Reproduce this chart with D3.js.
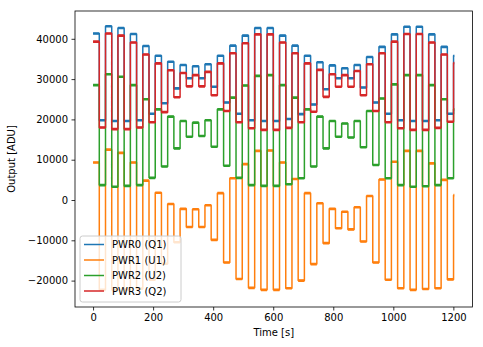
<!DOCTYPE html>
<html>
<head>
<meta charset="utf-8">
<script src="https://cdn.jsdelivr.net/npm/d3@7"></script>
<style>
  body { margin: 0; background: #fff; }
  text { font-family: "DejaVu Sans", sans-serif; }
</style>
</head>
<body>
<div id="chart-container"></div>
<script>
// level change times [s]: start of each half-step, last entry is the end of the record
const stepTimes = [
  0, 20.7, 41.4, 62.1, 82.8, 103.5, 124.2, 144.9, 165.6, 186.3,
  207, 227.7, 248.4, 269.1, 289.8, 310.5, 331.2, 351.9, 372.6, 393.3,
  414, 434.7, 455.4, 476.1, 496.8, 517.5, 538.2, 558.9, 579.6, 600.3,
  621, 641.7, 662.4, 683.1, 703.8, 724.5, 745.2, 765.9, 786.6, 807.3,
  828, 848.7, 869.4, 890.1, 910.8, 931.5, 952.2, 972.9, 993.6, 1014.3,
  1035, 1055.7, 1076.4, 1097.1, 1117.8, 1138.5, 1159.2, 1179.9, 1200.6, 1203
];

// first half of each step (30 values) and second half (29 values)
const pwr0High = [41300, 43100, 42700, 41200, 38200, 35800, 34300, 33500, 33200, 33700,
  35800, 38300, 40800, 42700, 42700, 40800, 38300, 35800, 34200, 33400,
  32700, 33500, 35500, 38000, 41100, 43000, 43000, 41100, 38000, 35800];
const pwr0Low = [19800, 19600, 19600, 19800, 21400, 24000, 27700, 30200, 30200, 28100,
  24200, 21400, 19800, 19600, 19600, 20100, 21300, 23700, 27500, 30200,
  30200, 27900, 24200, 21400, 19800, 19600, 19600, 19800, 21400];

const pwr1High = [9300, 12500, 11700, 9300, 4800, 1800, -1000, -2200, -2300, -1300,
  1700, 5400, 8900, 12200, 12300, 9300, 5200, 1700, -800, -2200,
  -2900, -1800, 1000, 5100, 9500, 12200, 12200, 9100, 5000, 1200];
const pwr1Low = [-22300, -22300, -22200, -22000, -19800, -15800, -10500, -6700, -6700, -9900,
  -15500, -19600, -21800, -22300, -22300, -21900, -20000, -15900, -10700, -7000,
  -7300, -10300, -15500, -19800, -21900, -22300, -22100, -21900, -19700];

const pwr2High = [28500, 31200, 30600, 28500, 25000, 22500, 20700, 19600, 19200, 19800,
  22500, 25400, 28400, 30800, 31000, 28500, 25400, 22500, 20700, 19600,
  19000, 19600, 22100, 25200, 28700, 31000, 31000, 28500, 25000, 22500];
const pwr2Low = [3700, 3300, 3500, 3700, 5500, 8300, 12800, 15700, 15900, 13200,
  8500, 5500, 3700, 3500, 3500, 3900, 5400, 8300, 12800, 15700,
  15500, 13100, 8700, 5400, 3700, 3300, 3400, 3700, 5400];

const pwr3High = [39300, 41300, 40800, 39100, 36100, 33900, 32200, 31500, 31000, 31800,
  33900, 36400, 38900, 41100, 41100, 39100, 36400, 33900, 32300, 31200,
  31000, 32000, 33700, 36400, 39300, 41200, 41200, 39100, 36100, 34000];
const pwr3Low = [18000, 17600, 17600, 18000, 19300, 21800, 25500, 28200, 28200, 26000,
  22100, 19300, 17800, 17400, 17400, 17900, 19300, 21900, 25600, 28100,
  28100, 26000, 22100, 19300, 17800, 17400, 17400, 17900, 19400];

const seriesNames = ["PWR0 (Q1)", "PWR1 (U1)", "PWR2 (U2)", "PWR3 (Q2)"];
const seriesColors = ["#1f77b4", "#ff7f0e", "#2ca02c", "#d62728"];
const xTicks = [0, 200, 400, 600, 800, 1000, 1200];
const yTicks = [-20000, -10000, 0, 10000, 20000, 30000, 40000];

function buildSteps(high, low) {
  const levels = [];
  high.forEach((h, i) => {
    levels.push(h);
    if (i < low.length) levels.push(low[i]);
  });
  const pts = levels.map((v, i) => ({ t: stepTimes[i], t1: stepTimes[i + 1], v: v }));
  pts.push({ t: stepTimes[stepTimes.length - 1], t1: stepTimes[stepTimes.length - 1], v: levels[levels.length - 1] });
  return pts;
}

const series = [
  buildSteps(pwr0High, pwr0Low),
  buildSteps(pwr1High, pwr1Low),
  buildSteps(pwr2High, pwr2Low),
  buildSteps(pwr3High, pwr3Low)
];

const W = 483, H = 347;
const margin = { top: 11, right: 10.5, bottom: 40, left: 75 };
const chartWidth = W - margin.left - margin.right;
const chartHeight = H - margin.top - margin.bottom;

const svg = d3.select("#chart-container")
  .append("svg")
  .attr("width", W)
  .attr("height", H);

const g = svg.append("g")
  .attr("transform", `translate(${margin.left},${margin.top})`);

const xScale = d3.scaleLinear()
  .domain([-60.2, 1263.7])
  .range([0, chartWidth]);

const yScale = d3.scaleLinear()
  .domain([-26550, 46900])
  .range([chartHeight, 0]);

// Lines
const line = d3.line()
  .x(d => xScale(d.t))
  .y(d => yScale(d.v))
  .curve(d3.curveStepAfter);

g.append("defs").append("clipPath")
  .attr("id", "clip")
  .append("rect")
  .attr("width", chartWidth)
  .attr("height", chartHeight);

series.forEach((s, i) => {
  const sg = g.append("g").attr("clip-path", "url(#clip)");
  sg.append("path")
    .datum(s)
    .attr("fill", "none")
    .attr("stroke", seriesColors[i])
    .attr("stroke-width", 1.5)
    .attr("stroke-linejoin", "round")
    .attr("d", line);
  // plateaus look heavier in the original (sensor noise)
  sg.selectAll("line.plateau")
    .data(s.slice(0, -1))
    .join("line")
    .attr("class", "plateau")
    .attr("x1", d => xScale(d.t))
    .attr("x2", d => xScale(d.t1))
    .attr("y1", d => yScale(d.v))
    .attr("y2", d => yScale(d.v))
    .attr("stroke", seriesColors[i])
    .attr("stroke-width", 2.6);
});

// Axes
const xAxis = d3.axisBottom(xScale).tickValues(xTicks).tickSize(3.5).tickPadding(3.5)
  .tickFormat(d3.format("d"));
const yAxis = d3.axisLeft(yScale).tickValues(yTicks).tickSize(3.5).tickPadding(3.5)
  .tickFormat(d => d < 0 ? "\u2212" + Math.abs(d) : d);

const gx = g.append("g")
  .attr("transform", `translate(0,${chartHeight})`)
  .call(xAxis);
const gy = g.append("g").call(yAxis);

[gx, gy].forEach(ax => {
  ax.select(".domain").remove();
  ax.selectAll(".tick line").attr("stroke", "#000").attr("stroke-width", 0.8);
  ax.selectAll(".tick text")
    .attr("fill", "#000")
    .style("font-size", "10px")
    .style("font-family", "'DejaVu Sans', sans-serif");
});

// Frame
g.append("rect")
  .attr("width", chartWidth)
  .attr("height", chartHeight)
  .attr("fill", "none")
  .attr("stroke", "#000")
  .attr("stroke-width", 0.8);

// Axis labels
g.append("text")
  .attr("x", chartWidth / 2)
  .attr("y", chartHeight + 29)
  .attr("text-anchor", "middle")
  .style("font-size", "10px")
  .text("Time [s]");

g.append("text")
  .attr("transform", "rotate(-90)")
  .attr("x", -chartHeight / 2)
  .attr("y", -60)
  .attr("text-anchor", "middle")
  .style("font-size", "10px")
  .text("Output [ADU]");

// Legend
const legend = g.append("g")
  .attr("transform", `translate(5, ${chartHeight - 5 - 66})`);

legend.append("rect")
  .attr("width", 101)
  .attr("height", 66)
  .attr("rx", 2.5)
  .attr("fill", "#fff")
  .attr("fill-opacity", 0.8)
  .attr("stroke", "#cccccc")
  .attr("stroke-width", 1);

seriesNames.forEach((name, i) => {
  const yy = 8.5 + i * 15.5;
  legend.append("line")
    .attr("x1", 4).attr("x2", 24)
    .attr("y1", yy).attr("y2", yy)
    .attr("stroke", seriesColors[i])
    .attr("stroke-width", 1.5);
  legend.append("text")
    .attr("x", 32).attr("y", yy)
    .attr("dy", "0.35em")
    .style("font-size", "10px")
    .text(name);
});
</script>
</body>
</html>
